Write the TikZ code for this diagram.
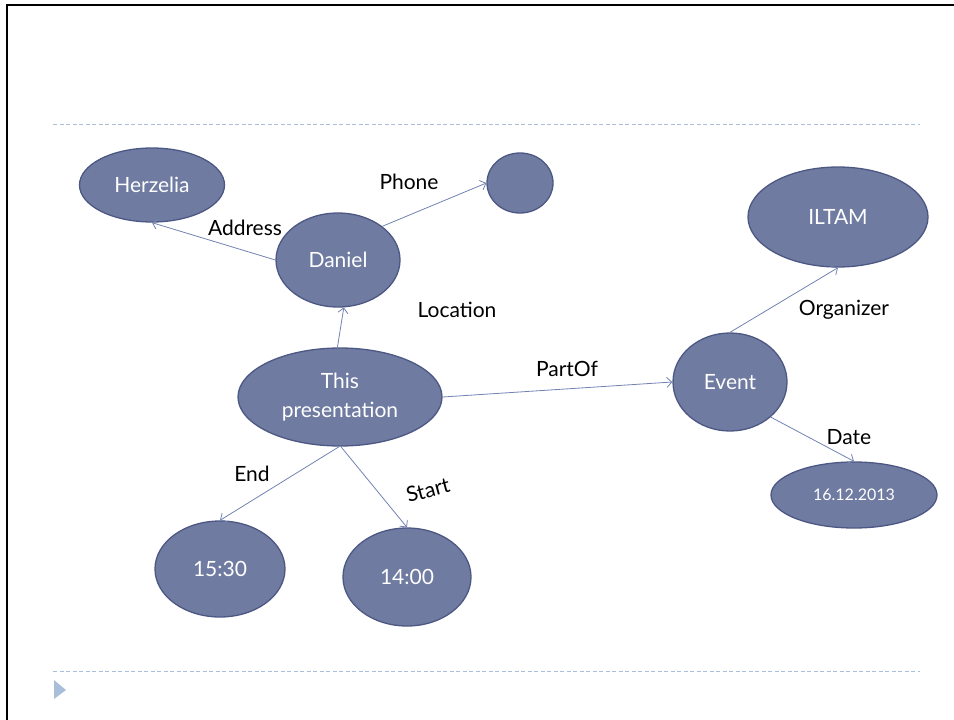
\documentclass[tikz,border=0pt]{standalone}
\usepackage{fontspec}
\setmainfont{Lato}
\usetikzlibrary{shapes.geometric,arrows.meta}
\definecolor{nodefill}{HTML}{6F7BA1}
\definecolor{nodeline}{HTML}{4C5883}
\definecolor{linkcol}{HTML}{7282B2}
\definecolor{rulecol}{HTML}{A9BED8}
\tikzset{
  concept/.style={ellipse, fill=nodefill, draw=nodeline, line width=1.3pt,
    inner sep=0pt, text=white, font=\fontsize{21}{29}\selectfont, align=center},
  link/.style={draw=linkcol, line width=0.8pt,
    -{Straight Barb[length=5pt,width=10pt,line width=0.8pt]}},
  rel/.style={text=black, font=\fontsize{21}{25}\selectfont, inner sep=0pt},
  slideframe/.style={draw=black, line width=2pt},
  divider/.style={draw=rulecol, line width=1pt, dash pattern=on 4pt off 2.5pt}
}
\begin{document}
\begin{tikzpicture}[x=1pt, y=-1pt]
  \useasboundingbox (0,0) rectangle (954,720);
  % slide frame and dividers
  \draw[slideframe] (7,720) -- (7,5) -- (954,5);
  \draw[divider] (53,124) -- (920,124);
  \draw[divider] (53,671) -- (920,671);
  \fill[rulecol] (54,680) -- (66,690) -- (54,699) -- cycle;

  % concepts
  \node[concept, minimum width=145pt, minimum height=74pt] (herz) at (152,185) {Herzelia};
  \node[concept, minimum width=66pt, minimum height=60pt] (phone) at (520,183) {};
  \node[concept, minimum width=124pt, minimum height=94pt] (dan) at (338,260) {Daniel};
  \node[concept, minimum width=204pt, minimum height=98pt] (pres) at (340,397) {This\\presentation};
  \node[concept, minimum width=114pt, minimum height=98pt] (event) at (730,382) {Event};
  \node[concept, minimum width=180pt, minimum height=100pt] (iltam) at (838,217) {ILTAM};
  \node[concept, minimum width=166pt, minimum height=66pt,
        font=\fontsize{16}{19}\selectfont] (date) at (854,495) {16.12.2013};
  \node[concept, minimum width=130pt, minimum height=96pt] (end) at (220,569) {15:30};
  \node[concept, minimum width=128pt, minimum height=98pt] (start) at (407,577) {14:00};

  % relations
  \draw[link] (dan.west) -- (herz.south);
  \draw[link] (dan.north east) -- (phone.west);
  \draw[link] (pres.93) -- (dan.-83);
  \draw[link] (pres.east) -- (event.west);
  \draw[link] (pres.-91) -- (end.north);
  \draw[link] (pres.-89) -- (start.north);
  \draw[link] (event.north) -- (iltam.south);
  \draw[link] (event.south east) -- (date.north);

  % relation labels
  \node[rel] (lphone) at (409,182) {Phone};
  \node[rel] (laddr) at (245,228) {Address};
  \node[rel] (lloc) at (457,310) {Location};
  \node[rel] (lpart) at (567,369) {PartOf};
  \node[rel] (lend) at (252,474) {End};
  \node[rel, rotate=15] (lstart) at (428,490) {Start};
  \node[rel] (lorg) at (844,310) {Organizer};
  \node[rel] (ldate) at (849,437) {Date};
\end{tikzpicture}
\end{document}
